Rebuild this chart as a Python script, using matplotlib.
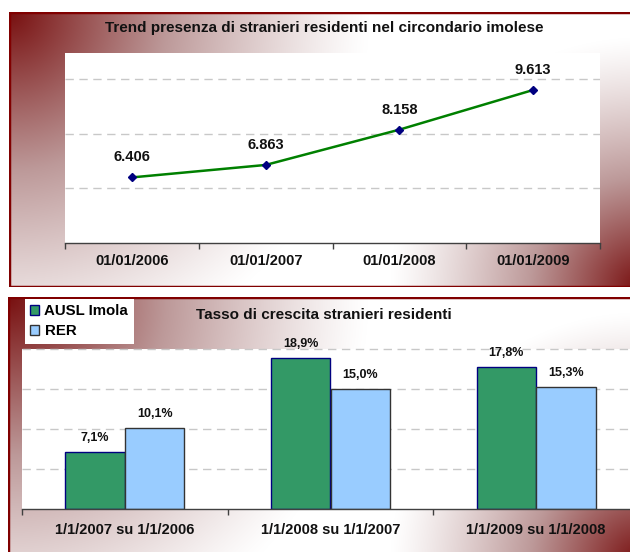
import numpy as np
import matplotlib
matplotlib.use('Agg')
import matplotlib.pyplot as plt
from matplotlib.patches import Rectangle, Patch

plt.rcParams['font.family'] = ['Liberation Sans', 'DejaVu Sans']
plt.rcParams['font.weight'] = 'bold'

# Data
date = ['01/01/2006', '01/01/2007', '01/01/2008', '01/01/2009']
residenti = [6406, 6863, 8158, 9613]

periodi = ['1/1/2007 su 1/1/2006', '1/1/2008 su 1/1/2007', '1/1/2009 su 1/1/2008']
ausl_imola = [7.1, 18.9, 17.8]
rer = [10.1, 15.0, 15.3]

W, H = 630, 552
fig = plt.figure(figsize=(W / 100, H / 100), dpi=100)


def px_axes(x0, y0, x1, y1, **kw):
    # axes placed with pixel coords (origin top-left)
    return fig.add_axes([x0 / W, 1 - y1 / H, (x1 - x0) / W, (y1 - y0) / H], **kw)


def gradient_frame(x0, y0, x1, y1):
    ax = px_axes(x0, y0, x1, y1, zorder=0)
    w, h = int(x1 - x0), int(y1 - y0)
    X, Y = np.meshgrid(np.arange(w), np.arange(h))
    # dark red spreading from the top-left and bottom-right corners
    d1 = np.hypot(X, Y)
    d2 = np.hypot(w - X, h - Y)
    s1 = np.clip(1 - d1 / 360, 0, 1) ** 1.2
    s2 = np.clip(1 - d2 / 250, 0, 1) ** 1.2
    s = np.maximum(s1, s2)[..., None]
    white = np.array([1.0, 1.0, 1.0])
    mid = np.array([0.74, 0.60, 0.60])
    dark = np.array([0.47, 0.06, 0.06])
    lo = np.clip(s / 0.5, 0, 1)
    hi = np.clip((s - 0.5) / 0.5, 0, 1)
    img = np.where(s < 0.5, (1 - lo) * white + lo * mid, (1 - hi) * mid + hi * dark)
    ax.imshow(img, interpolation='bilinear', aspect='auto')
    ax.add_patch(Rectangle((-0.5, -0.5), w, h, fill=False, edgecolor='#800000', lw=2.5))
    ax.axis('off')
    return ax


def style_axis(ax, ncat, pad):
    for sp in ['top', 'right', 'left']:
        ax.spines[sp].set_visible(False)
    ax.spines['bottom'].set_color('#404040')
    ax.spines['bottom'].set_linewidth(1)
    ax.set_xlim(-0.5, ncat - 0.5)
    ax.set_xticks(np.arange(ncat))
    ax.set_xticks(np.arange(ncat + 1) - 0.5, minor=True)
    ax.tick_params(axis='x', which='major', length=0, pad=pad, labelsize=10.5, colors='#111111')
    ax.tick_params(axis='x', which='minor', length=4, width=1, color='#404040')
    ax.tick_params(axis='y', length=0, labelleft=False)
    ax.yaxis.grid(True, color='#c8c8c8', linestyle=(0, (6, 4)), linewidth=1)
    ax.set_axisbelow(True)
    ax.set_facecolor('white')


# ---- top chart: trend ----
gradient_frame(9, 12, 640, 287)
fig.text(324 / W, 1 - 28 / H, 'Trend presenza di stranieri residenti nel circondario imolese',
         ha='center', va='center', fontsize=11, color='#111111')

ax1 = px_axes(65, 53, 600, 243, zorder=1)
x = np.arange(len(date))
ax1.plot(x, residenti, color='#008000', lw=1.8, marker='D', markersize=4.5,
         markerfacecolor='#000080', markeredgecolor='#000080')
ax1.set_ylim(4000, 10970)
ax1.set_yticks([6000, 8000, 10000])
style_axis(ax1, len(date), 8)
ax1.set_xticklabels(date)
for xi, v in zip(x, residenti):
    ax1.annotate(f'{v:,}'.replace(',', '.'), (xi, v), xytext=(0, 14.5), textcoords='offset points',
                 ha='center', va='center', fontsize=10.5, color='#111111')

# ---- bottom chart: growth rate ----
gradient_frame(8, 297, 640, 562)
fig.text(324 / W, 1 - 315 / H, 'Tasso di crescita stranieri residenti',
         ha='center', va='center', fontsize=11, color='#111111')

ax2 = px_axes(22, 349, 639, 509, zorder=1)
xb = np.arange(len(periodi))
bw = 0.29
b1 = ax2.bar(xb - bw / 2, ausl_imola, bw, color='#339966', edgecolor='#000080', lw=1)
b2 = ax2.bar(xb + bw / 2, rer, bw, color='#99ccff', edgecolor='#333333', lw=1)
ax2.set_ylim(0, 20)
ax2.set_yticks([5, 10, 15, 20])
style_axis(ax2, len(periodi), 10)
ax2.set_xticklabels(periodi)
for bars in (b1, b2):
    for r in bars:
        h = r.get_height()
        ax2.annotate(f'{h:.1f}%'.replace('.', ','), (r.get_x() + r.get_width() / 2, h),
                     xytext=(0, 10), textcoords='offset points',
                     ha='center', va='center', fontsize=9, color='#111111')
for gl in ax2.get_ygridlines():
    gl.set_clip_on(False)

handles = [Patch(facecolor='#339966', edgecolor='#000080'),
           Patch(facecolor='#99ccff', edgecolor='#333333')]
leg = fig.legend(handles, ['AUSL Imola', 'RER'], loc='upper left',
                 bbox_to_anchor=(25 / W, 1 - 299 / H), fontsize=10.8,
                 frameon=True, fancybox=False, framealpha=1, edgecolor='none',
                 handlelength=0.6, handleheight=0.6, handletextpad=0.35,
                 labelspacing=0.4, borderpad=0.35, borderaxespad=0)
leg.set_zorder(5)

fig.savefig('out.png', dpi=100)
